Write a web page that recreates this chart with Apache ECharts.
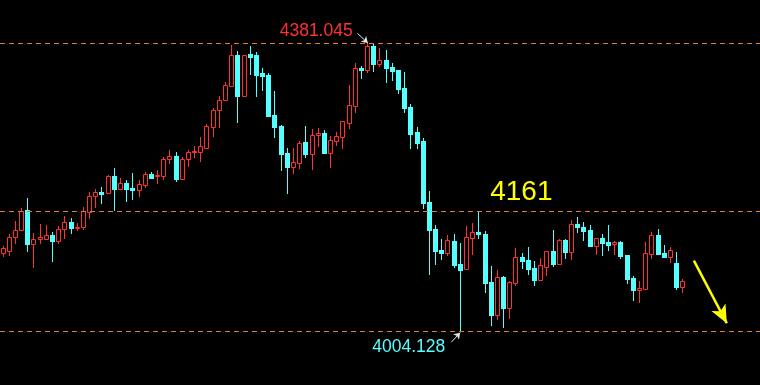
<!DOCTYPE html>
<html>
<head>
<meta charset="utf-8">
<script src="https://cdn.jsdelivr.net/npm/echarts@6/dist/echarts.min.js"></script>
<style>
html,body{margin:0;padding:0;background:#000;}
#chart{width:760px;height:385px;}
</style>
</head>
<body>
<div id="chart"></div>
<script>
// [open, close, low, high]
const candles = [
[4106.9,4113.4,4102.9,4116.0],
[4109.9,4127.4,4104.3,4131.7],
[4127.4,4137.0,4119.6,4148.8],
[4136.6,4162.2,4136.6,4165.4],
[4163.1,4119.0,4109.9,4178.5],
[4119.0,4124.8,4088.9,4132.7],
[4125.6,4127.4,4120.4,4144.8],
[4125.6,4130.0,4125.6,4143.5],
[4130.4,4123.0,4096.4,4134.7],
[4123.0,4138.3,4120.4,4142.2],
[4137.9,4147.4,4126.9,4155.7],
[4147.4,4139.6,4133.4,4152.3],
[4140.0,4140.5,4136.6,4145.7],
[4141.3,4161.8,4138.7,4166.7],
[4160.1,4181.5,4152.3,4186.7],
[4181.1,4186.7,4166.7,4190.2],
[4186.7,4184.5,4172.7,4193.2],
[4185.0,4207.6,4185.0,4209.0],
[4207.6,4191.0,4163.1,4218.1],
[4191.0,4198.5,4191.0,4204.6],
[4198.5,4191.0,4174.9,4202.4],
[4191.9,4189.7,4177.5,4211.6],
[4189.7,4197.2,4181.5,4202.4],
[4196.3,4210.3,4193.6,4212.9],
[4210.3,4205.4,4205.4,4212.9],
[4207.6,4208.6,4198.5,4215.5],
[4208.0,4229.9,4204.1,4232.5],
[4229.5,4233.8,4225.0,4241.7],
[4233.8,4204.1,4201.5,4239.0],
[4204.1,4229.9,4204.1,4232.9],
[4229.5,4239.0,4220.7,4241.7],
[4239.0,4239.7,4232.9,4246.9],
[4239.4,4246.9,4227.7,4258.7],
[4244.7,4273.1,4244.7,4275.7],
[4272.2,4294.0,4260.4,4297.0],
[4293.6,4307.1,4272.2,4312.3],
[4307.1,4326.7,4307.1,4330.7],
[4325.8,4366.0,4325.8,4379.1],
[4366.0,4312.7,4278.3,4371.2],
[4312.7,4366.0,4312.7,4366.0],
[4367.3,4363.8,4341.5,4377.8],
[4366.0,4340.2,4312.7,4369.9],
[4342.4,4338.9,4320.6,4349.0],
[4340.2,4286.6,4286.6,4342.4],
[4287.5,4272.2,4259.1,4318.9],
[4273.1,4236.8,4215.9,4274.4],
[4237.7,4219.8,4185.8,4244.3],
[4219.8,4225.6,4212.0,4244.3],
[4225.0,4250.8,4218.5,4253.4],
[4252.1,4236.8,4232.9,4273.1],
[4236.8,4260.9,4217.2,4269.2],
[4261.3,4263.9,4246.9,4270.5],
[4263.9,4238.1,4238.1,4267.8],
[4238.1,4254.8,4219.8,4260.0],
[4253.8,4259.6,4248.6,4265.2],
[4259.1,4279.6,4244.7,4279.6],
[4277.4,4300.6,4270.5,4326.7],
[4299.6,4349.0,4291.8,4355.5],
[4349.0,4346.8,4336.3,4351.6],
[4346.4,4377.8,4343.7,4381.045],
[4377.8,4354.2,4345.1,4380.4],
[4354.2,4359.5,4351.6,4375.2],
[4359.5,4349.0,4330.7,4372.5],
[4350.3,4345.1,4333.3,4355.5],
[4346.4,4321.5,4316.3,4346.4],
[4322.8,4296.6,4291.4,4343.7],
[4297.9,4262.6,4244.3,4301.9],
[4265.2,4250.8,4244.3,4271.8],
[4253.4,4172.3,4165.8,4257.4],
[4173.6,4137.0,4079.4,4188.0],
[4138.3,4109.5,4092.5,4143.5],
[4110.8,4106.9,4099.0,4125.2],
[4106.9,4123.9,4104.3,4130.4],
[4122.6,4091.2,4088.5,4131.7],
[4092.5,4084.6,4004.128,4120.0],
[4085.9,4127.8,4085.9,4142.2],
[4126.5,4134.4,4105.6,4146.1],
[4134.4,4131.7,4126.5,4160.5],
[4131.7,4067.6,4055.8,4135.7],
[4068.9,4025.7,4012.6,4089.9],
[4025.7,4075.5,4020.5,4084.6],
[4075.5,4034.9,4010.0,4076.8],
[4034.9,4068.9,4021.8,4070.2],
[4067.6,4101.6,4065.0,4113.4],
[4101.6,4096.4,4087.2,4106.9],
[4097.7,4085.9,4079.4,4114.7],
[4087.2,4071.5,4065.0,4096.4],
[4071.5,4091.2,4071.5,4100.3],
[4088.5,4109.5,4078.1,4109.5],
[4109.5,4092.5,4089.9,4137.0],
[4092.5,4123.9,4092.5,4125.2],
[4123.9,4108.2,4100.3,4125.2],
[4108.2,4144.8,4099.0,4150.1],
[4144.8,4140.9,4134.4,4154.0],
[4140.9,4135.7,4123.9,4147.4],
[4137.0,4116.0,4116.0,4143.5],
[4116.0,4126.5,4105.6,4126.5],
[4126.5,4120.0,4104.3,4131.7],
[4121.3,4117.3,4110.8,4143.5],
[4118.3,4121.3,4105.6,4122.6],
[4121.3,4102.9,4100.3,4122.6],
[4104.3,4072.8,4067.6,4104.3],
[4074.2,4058.4,4045.4,4076.8],
[4058.8,4061.1,4042.7,4070.2],
[4059.8,4106.9,4059.8,4121.3],
[4105.6,4130.4,4100.3,4134.4],
[4130.4,4105.6,4105.6,4138.3],
[4106.9,4101.6,4101.6,4117.3],
[4101.6,4110.8,4095.1,4114.7],
[4093.8,4062.4,4059.8,4108.2],
[4062.4,4070.2,4055.8,4072.8]
];
const emptySlots = 12;                        // blank space right of the last candle
const levels = [4381.045, 4161, 4004.128];    // dashed reference lines
const levelLabel = '4161';

const categories = [];
for (let i = 0; i < candles.length + emptySlots; i++) categories.push(String(i));
const seriesData = candles.map((c, i) => [i, c[0], c[1], c[2], c[3]]);

const highest = Math.max(...candles.map(c => c[3]));
const lowest = Math.min(...candles.map(c => c[2]));
const highIdx = candles.findIndex(c => c[3] === highest) - 1;
const lowIdx = candles.findIndex(c => c[2] === lowest) - 1;

const chart = echarts.init(document.getElementById('chart'), null, {renderer: 'canvas'});
const band = 6.255;
const nCat = categories.length;
const RED = '#ff3232', CYAN = '#54ffff', ORANGE = '#e87c24';

function renderCandle(params, api) {
  const i = api.value(0);
  const o = api.value(1), c = api.value(2), l = api.value(3), h = api.value(4);
  const po = api.coord([i, o]), pc = api.coord([i, c]);
  const pl = api.coord([i, l]), ph = api.coord([i, h]);
  const X = Math.floor(po[0]);
  const up = c >= o;
  const T = Math.round(Math.min(po[1], pc[1]));
  const B = Math.round(Math.max(po[1], pc[1]));
  const H = Math.round(ph[1]), L = Math.round(pl[1]);
  const col = up ? RED : CYAN;
  const children = [
    {type: 'rect', shape: {x: X, y: H, width: 1, height: Math.max(1, L - H + 1)}, style: {fill: col}}
  ];
  if (up) {
    children.push({type: 'rect', shape: {x: X - 1.5, y: T + 0.5, width: 4, height: B - T},
      style: {fill: '#000000', stroke: col, lineWidth: 1}});
  } else {
    children.push({type: 'rect', shape: {x: X - 2, y: T, width: 5, height: B - T + 1},
      style: {fill: col}});
  }
  return {type: 'group', children: children};
}

chart.setOption({
  backgroundColor: '#000000',
  animation: false,
  grid: {left: -5.08, top: 0, width: band * nCat, height: 385, containLabel: false},
  xAxis: [
    {type: 'category', data: categories, show: false, boundaryGap: true},
    {type: 'value', min: -1.5, max: nCat - 1.5, show: false}
  ],
  yAxis: {type: 'value', min: 3934.11, max: 4437.97, show: false, splitLine: {show: false}},
  series: [
    {
      type: 'custom',
      renderItem: renderCandle,
      data: seriesData,
      encode: {x: 0, y: [1, 2, 3, 4]},
      silent: true
    },
    {
      type: 'scatter', xAxisIndex: 1, yAxisIndex: 0, data: [], silent: true,
      markLine: {
        silent: true,
        symbol: ['none', 'none'],
        label: {show: false},
        emphasis: {disabled: true},
        data: levels.map(v => ({yAxis: v, lineStyle: {color: ORANGE, type: [5, 4], width: 1, opacity: 1}}))
          .concat([
          [{coord: [highIdx - 1.66, 4394.4], symbol: 'none', lineStyle: {color: '#e6e6e6', width: 1, type: 'solid', opacity: 1}},
           {coord: [highIdx + 0.03, 4381.7], symbol: 'arrow', symbolSize: 6}],
          [{coord: [lowIdx - 1.47, 3990.0], symbol: 'none', lineStyle: {color: '#e6e6e6', width: 1, type: 'solid', opacity: 1}},
           {coord: [lowIdx - 0.03, 4002.6], symbol: 'arrow', symbolSize: 6}],
          [{coord: [110.8, 4096.8], symbol: 'none', lineStyle: {color: '#ffff00', width: 2.5, type: 'solid', opacity: 1}},
           {coord: [116.13, 4014.9], symbol: 'arrow', symbolSize: [12, 18]}]
        ])
      },
      markPoint: {
        silent: true, symbol: 'circle', symbolSize: 0,
        label: {show: true, position: 'inside', formatter: '{b}', fontFamily: 'Liberation Sans'},
        data: [
          {name: highest.toFixed(3), coord: [49.67, 4397.7], label: {color: RED, fontSize: 17.5}},
          {name: lowest.toFixed(3), coord: [64.65, 3983.85], label: {color: CYAN, fontSize: 17.5}},
          {name: levelLabel, coord: [82.88, 4186.4], label: {color: '#ffff00', fontSize: 28}}
        ]
      }
    }
  ]
});
</script>
</body>
</html>
